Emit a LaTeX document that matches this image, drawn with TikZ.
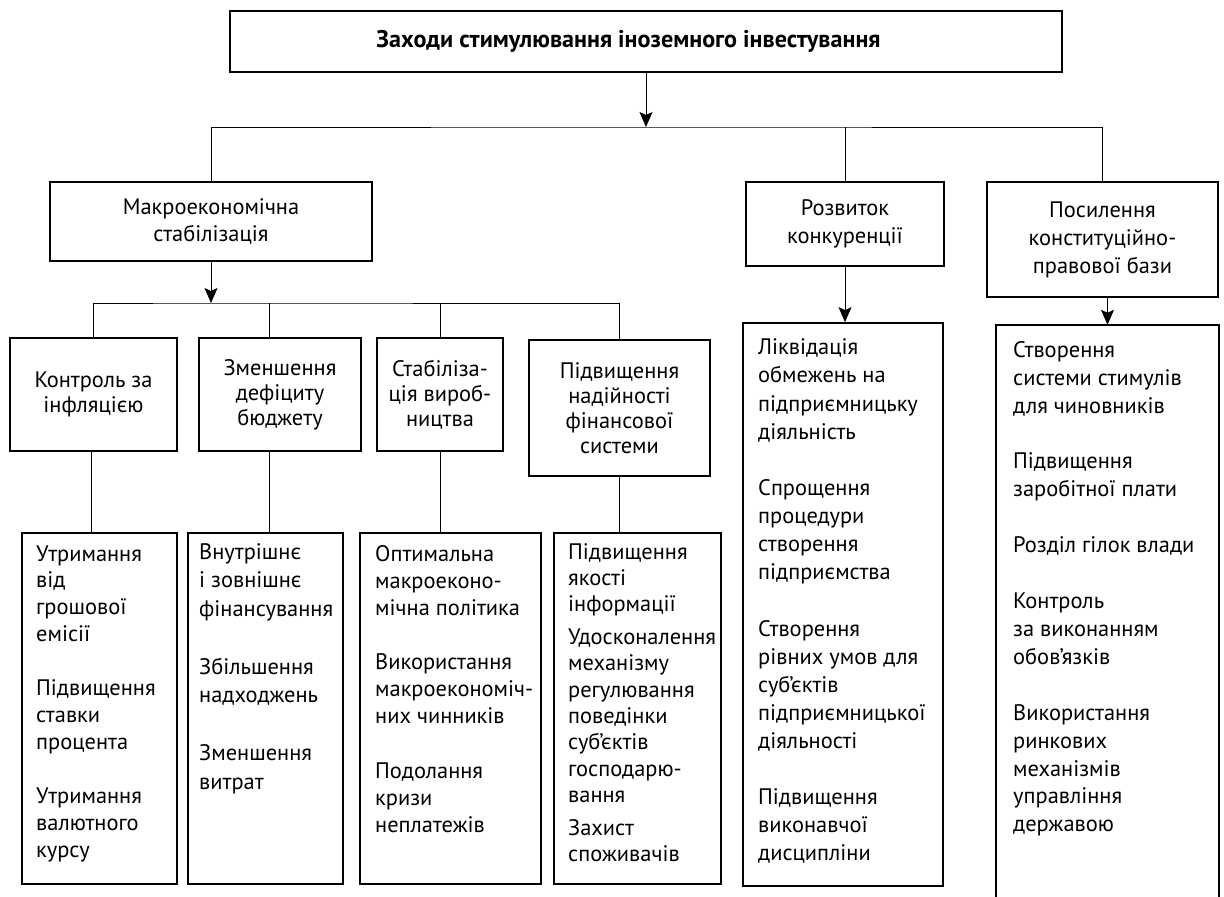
\documentclass[tikz,border=0pt]{standalone}
\usepackage{fontspec}
\setmainfont{PT Sans}
\usetikzlibrary{arrows.meta}
\begin{document}
\begin{tikzpicture}[x=1bp,y=-1bp,
  box/.style={draw, line width=1.8bp, inner sep=0, align=center, font=\fontsize{22.5}{28}\selectfont},
  boxs/.style={box, font=\fontsize{22.5}{25}\selectfont},
  frame/.style={draw, line width=1.8bp, inner sep=0},
  conn/.style={line width=1bp},
  arr/.style={conn, -{Stealth[length=15bp,width=13bp,inset=3bp]}},
  ltext/.style={inner sep=0, anchor=north west, align=left},
]
\useasboundingbox (0,0) rectangle (1224,897);

% level 0
\node[box, minimum width=832bp, minimum height=61bp, font=\bfseries\fontsize{24.2}{28}\selectfont] (top) at (646,41.5) {\hspace*{-35bp}Заходи стимулювання іноземного інвестування};

% level 1
\node[box, minimum width=322bp, minimum height=79bp] (makro) at (211,221.5) {Макроекономічна\\стабілізація};
\node[box, minimum width=198bp, minimum height=84bp] (rozv) at (845,224) {Розвиток\\конкуренції};
\node[box, minimum width=231bp, minimum height=115bp] (posyl) at (1102.5,239.5) {Посилення\\конституційно-\\правової бази};

% level 2
\node[boxs, minimum width=167bp, minimum height=113bp] (kontr) at (93.5,394.5) {Контроль за\\інфляцією};
\node[boxs, minimum width=162bp, minimum height=113bp] (zmen) at (280,394.5) {Зменшення\\дефіциту\\бюджету};
\node[boxs, minimum width=126bp, minimum height=113bp] (stab) at (440,394.5) {Стабіліза-\\ція вироб-\\ництва};
\node[boxs, minimum width=181bp, minimum height=136bp] (pidv) at (619.5,408) {Підвищення\\надійності\\фінансової\\системи};

% bottom boxes
\node[frame, minimum width=155bp, minimum height=351bp] (b1) at (99.5,708.5) {};
\node[frame, minimum width=155bp, minimum height=351bp] (b2) at (265.5,708.5) {};
\node[frame, minimum width=181bp, minimum height=351bp] (b3) at (450.5,708.5) {};
\node[frame, minimum width=167bp, minimum height=351bp] (b4) at (637.5,708.5) {};
\node[frame, minimum width=200bp, minimum height=563bp] (rl) at (843,604.5) {};
\node[inner sep=0, minimum width=223bp, minimum height=572bp] (pl) at (1107.5,611) {};
\draw[line width=1.8bp] (pl.south west) -- (pl.north west) -- (pl.north east) -- (pl.south east);

% texts of bottom boxes
\node[ltext, font=\fontsize{22.5}{27}\selectfont] (t1) at (36,542) {\strut Утримання\\від\\грошової\\емісії\\[27bp]Підвищення\\ставки\\процента\\[27bp]Утримання\\валютного\\курсу};
\node[ltext, font=\fontsize{22.5}{28.8}\selectfont] (t2) at (199,539) {\strut Внутрішнє\\і зовнішнє\\фінансування\\[28.8bp]Збільшення\\надходжень\\[28.8bp]Зменшення\\витрат};
\node[ltext, font=\fontsize{22.5}{27.2}\selectfont] (t3) at (375,542) {\strut Оптимальна\\макроеконо-\\мічна політика\\[27.2bp]Використання\\макроекономіч-\\них чинників\\[27.2bp]Подолання\\кризи\\неплатежів};
\node[ltext, font=\fontsize{22.5}{26.5}\selectfont] (t4) at (568,540.5) {\strut Підвищення\\якості\\інформації\\[6bp]Удосконалення\\ механізму\\регулювання\\поведінки\\суб’єктів\\господарю-\\вання\\[6bp]Захист\\споживачів};
\node[ltext, font=\fontsize{22.5}{28.2}\selectfont] (t5) at (758,335) {\strut Ліквідація\\обмежень на\\підприємницьку\\діяльність\\[28.2bp]Спрощення\\процедури\\створення\\підприємства\\[28.2bp]Створення\\рівних умов для\\суб’єктів\\підприємницької\\діяльності\\[28.2bp]Підвищення\\виконавчої\\дисципліни};
\node[ltext, font=\fontsize{22.5}{28}\selectfont] (t6) at (1013,337.5) {\strut Створення\\системи стимулів\\для чиновників\\[28bp]Підвищення\\заробітної плати\\[28bp]Розділ гілок влади\\[28bp]Контроль\\за виконанням\\обов’язків\\[28bp]Використання\\ринкових\\механізмів\\управління\\державою};

% connectors level 0 -> 1
\coordinate (j0) at (646,127);
\draw[arr] (top.south) -- (j0);
\draw[conn] (makro.north) |- (j0) -| (posyl.north);
\draw[conn] (rozv.north) -- (rozv.north |- j0);

% makro -> level 2
\coordinate (j1) at (211,303);
\coordinate (d2) at (269,303);
\draw[arr] (makro.south) -- (j1);
\draw[conn] (kontr.north) |- (j1) -| (pidv.north);
\draw[conn] (zmen.north -| d2) -- (d2);
\draw[conn] (stab.north) -- (stab.north |- j1);

% level 2 -> bottom boxes
\coordinate (e1) at (91,0);
\draw[conn] (kontr.south -| e1) -- (b1.north -| e1);
\draw[conn] (zmen.south -| d2) -- (b2.north -| d2);
\draw[conn] (stab.south) -- (b3.north -| stab.south);
\draw[conn] (pidv.south) -- (b4.north -| pidv.south);

% level 1 -> lists
\draw[arr] (rozv.south) -- (rozv.south |- rl.north);
\draw[arr] (pl.north |- posyl.south) -- (pl.north);
\end{tikzpicture}
\end{document}
